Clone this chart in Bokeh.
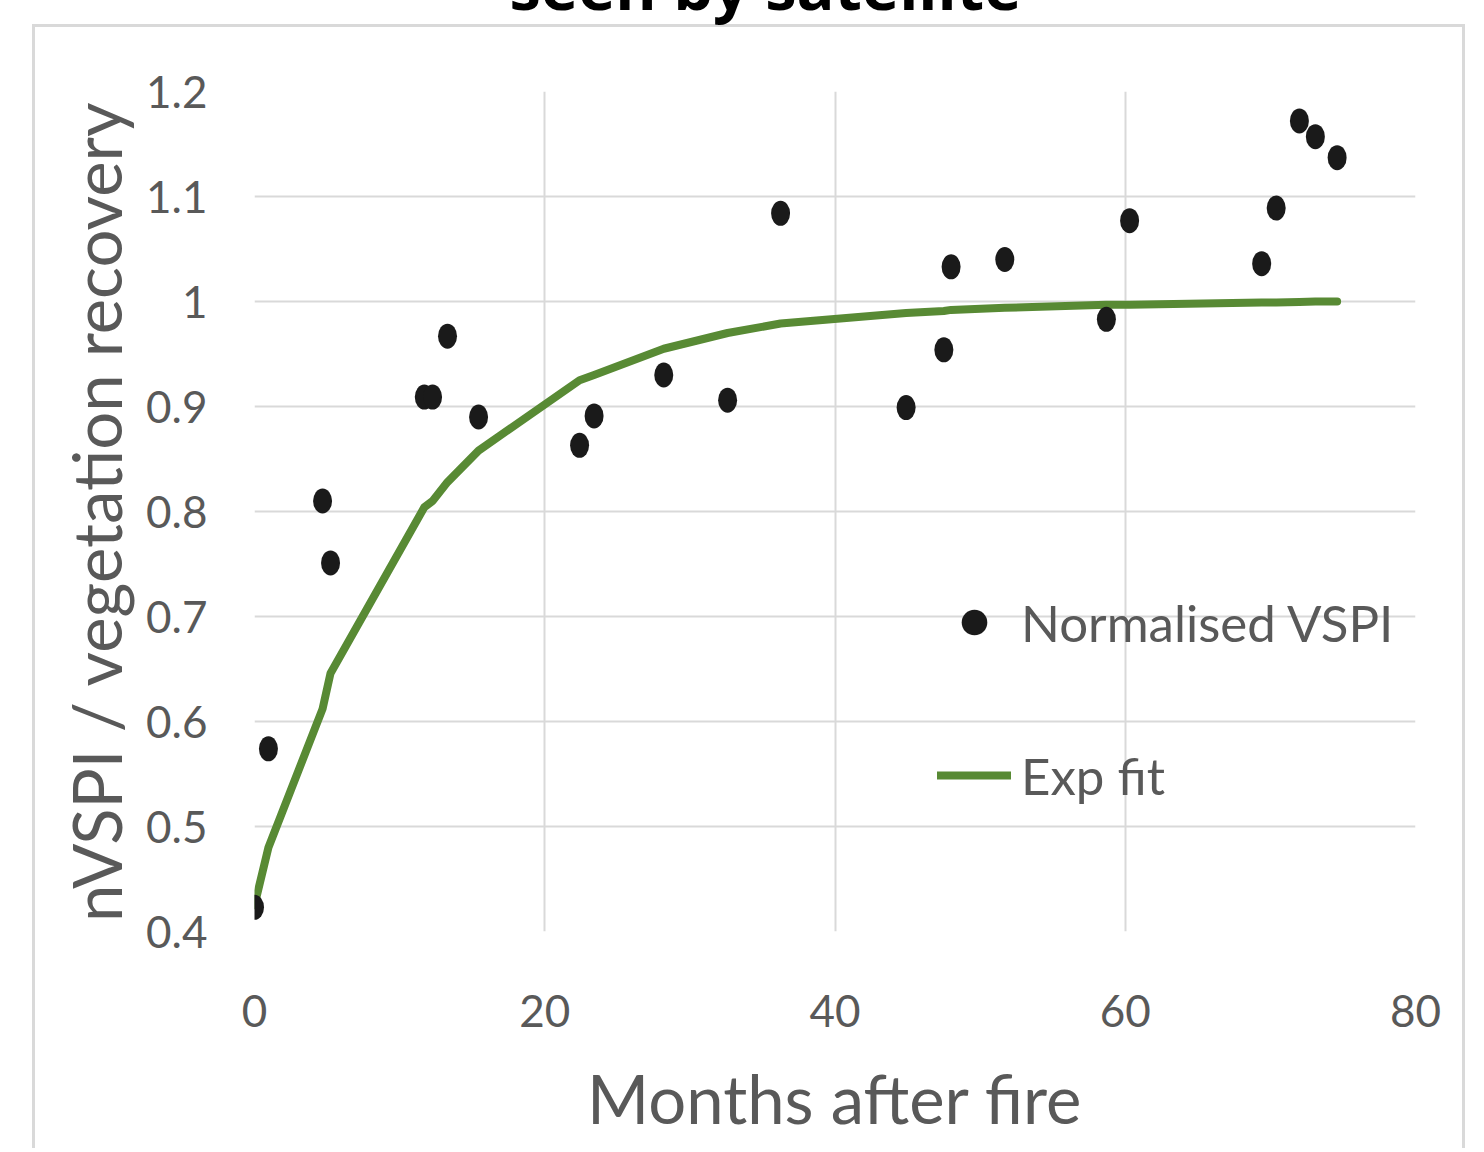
from bokeh.plotting import figure
from bokeh.models import (Range1d, FixedTicker, Legend, LegendItem, Label,
                          ColumnDataSource)
from bokeh.embed import file_html
from bokeh.resources import INLINE

# ---- data ----
months = [0, 0.96, 4.69, 5.24, 11.7, 12.27, 13.3, 15.44, 22.4, 23.4, 28.2, 32.6,
          36.25, 44.9, 47.5, 48.0, 51.7, 58.7, 60.3, 69.4, 70.4, 72.0, 73.1, 74.6]
nvspi = [0.423, 0.574, 0.810, 0.751, 0.909, 0.909, 0.967, 0.890, 0.863, 0.891, 0.930, 0.906,
         1.084, 0.899, 0.954, 1.033, 1.040, 0.983, 1.077, 1.036, 1.089, 1.172, 1.157, 1.137]
exp_fit = [0.425, 0.48, 0.612, 0.646, 0.804, 0.81, 0.828, 0.858, 0.925, 0.93, 0.955, 0.970,
           0.979, 0.989, 0.991, 0.992, 0.994, 0.997, 0.997, 0.999, 0.999, 0.9995, 1.0, 1.0]

x_ticks = [0, 20, 40, 60, 80]
x_tick_labels = ["0", "20", "40", "60", "80"]
y_ticks = [0.4, 0.5, 0.6, 0.7, 0.8, 0.9, 1.0, 1.1, 1.2]
y_tick_labels = ["0.4", "0.5", "0.6", "0.7", "0.8", "0.9", "1", "1.1", "1.2"]

title_text = "seen by satellite"
x_label = "Months after fire"
y_label = "nVSPI / vegetation recovery"
series_names = ["Normalised VSPI", "Exp fit"]

GRAY_TEXT = "#595959"
GRID = "#d9d9d9"
GREEN = "#588a34"
DOT = "#1a1a1a"
FONT = "Lato"

src = ColumnDataSource(data=dict(months=months, nvspi=nvspi, exp_fit=exp_fit))

W, H = 1476, 1148
FL, FR, FT, FB = 254, 1415, 91, 931   # frame edges in canvas pixels
X0, X1, Y0, Y1 = 0, 80, 0.4, 1.2
p = figure(width=W, height=H, x_range=Range1d(X0, X1), y_range=Range1d(Y0, Y1),
           output_backend="svg", toolbar_location=None,
           min_border_left=FL, min_border_right=W - FR, min_border_top=FT,
           min_border_bottom=H - FB)
p.outline_line_color = None
p.background_fill_color = "white"
p.border_fill_alpha = 0   # let the page background (with the chart border) show

# light grey chart border (open at the bottom), drawn as the element's CSS background
BL, BR, BT = 32, 1462, 24
line = "linear-gradient(%s, %s)" % (GRID, GRID)
p.styles = {
    "background-image": ", ".join([line, line, line]),
    "background-position": "%dpx %dpx, %dpx %dpx, %dpx %dpx" % (BL, BT, BL, BT, BR, BT),
    "background-size": "%dpx 3px, 3px %dpx, 3px %dpx" % (BR - BL + 3, H, H),
    "background-repeat": "no-repeat",
    "background-color": "white",
}


def px_x(px):
    """canvas pixel -> x data value (for decorations outside the frame)"""
    return X0 + (px - FL) * (X1 - X0) / (FR - FL)


def px_y(py):
    return Y0 + (FB - py) * (Y1 - Y0) / (FB - FT)


# axes
p.xaxis.ticker = FixedTicker(ticks=x_ticks)
p.yaxis.ticker = FixedTicker(ticks=y_ticks)
p.xaxis.major_label_overrides = {t: s for t, s in zip(x_ticks, x_tick_labels)}
p.yaxis.major_label_overrides = {t: s for t, s in zip(y_ticks, y_tick_labels)}
for ax in (p.xaxis, p.yaxis):
    ax.axis_line_color = None
    ax.major_tick_line_color = None
    ax.minor_tick_line_color = None
    ax.major_label_text_font = FONT
    ax.major_label_text_font_size = "44px"
    ax.major_label_text_color = GRAY_TEXT
    ax.axis_label_text_font = FONT
    ax.axis_label_text_font_style = "normal"
    ax.axis_label_text_color = GRAY_TEXT
p.xaxis.axis_label = x_label
p.yaxis.axis_label = y_label
p.xaxis.axis_label_text_font_size = "67px"
p.yaxis.axis_label_text_font_size = "67px"
p.xaxis.major_label_standoff = 57
p.yaxis.major_label_standoff = 41
p.xaxis.axis_label_standoff = 28
p.yaxis.axis_label_standoff = 7

p.xgrid.ticker = FixedTicker(ticks=x_ticks)
p.ygrid.ticker = FixedTicker(ticks=y_ticks)
for g in (p.xgrid, p.ygrid):
    g.grid_line_color = GRID
    g.grid_line_width = 2

# series
r_line = p.line("months", "exp_fit", source=src, line_color=GREEN, line_width=8,
                line_join="round", line_cap="round")
p.ellipse("months", "nvspi", source=src, width=19, height=25,
          width_units="screen", height_units="screen",
          fill_color=DOT, line_color=None)
r_proxy = p.scatter("months", "nvspi", source=src, size=24, fill_color=DOT,
                    line_color=None, visible=False)

legend = Legend(items=[LegendItem(label=series_names[0], renderers=[r_proxy]),
                       LegendItem(label=series_names[1], renderers=[r_line])],
                location=(683, 124), orientation="vertical",
                glyph_width=74, glyph_height=64, label_height=64, spacing=89,
                padding=0, margin=0, label_standoff=10,
                background_fill_alpha=0, border_line_alpha=0,
                label_text_font=FONT, label_text_font_size="51px",
                label_text_color=GRAY_TEXT)
p.add_layout(legend)

# title (cut off at the top as in the reference), placed in the top panel
p.add_layout(Label(x=px_x(765), y=px_y(-15), text=title_text, text_align="center",
                   text_baseline="alphabetic", text_font="Open Sans",
                   text_font_style="bold", text_font_size="63px", text_color="black"),
             "above")

open("out.html", "w").write(file_html(p, INLINE))
